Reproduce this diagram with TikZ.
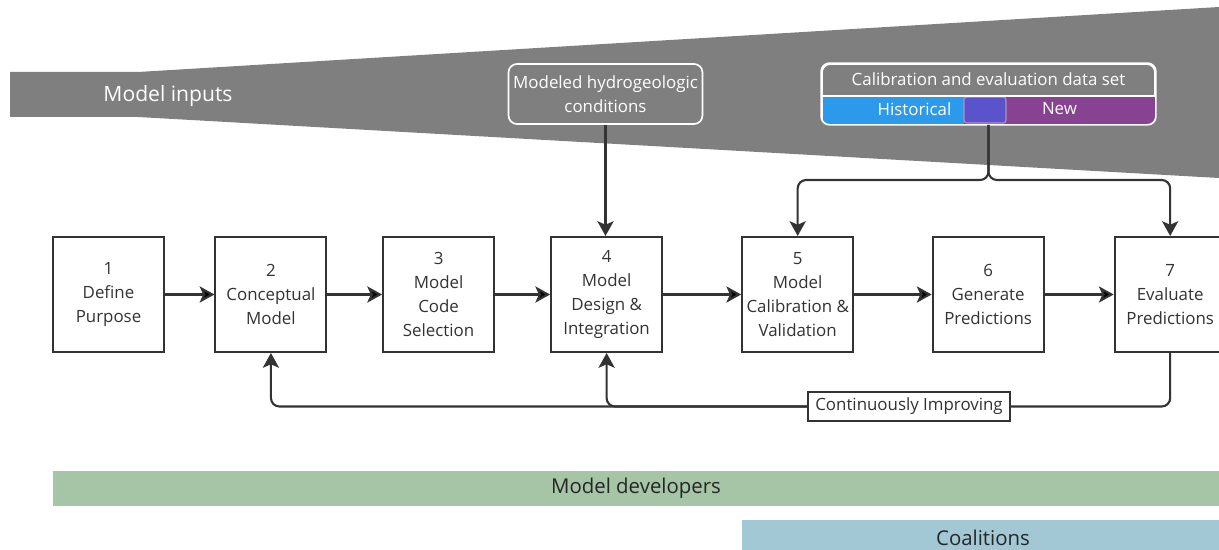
\documentclass[tikz,border=0pt]{standalone}
\usepackage{fontspec}
\setmainfont{Open Sans}
\usetikzlibrary{arrows.meta,positioning,calc}

\definecolor{bandgray}{HTML}{7F7F7F}
\definecolor{linecol}{HTML}{333333}
\definecolor{histblue}{HTML}{2B9AEB}
\definecolor{newpurple}{HTML}{874392}
\definecolor{bothcol}{HTML}{5B53CC}
\definecolor{devgreen}{HTML}{A6C4A6}
\definecolor{coalblue}{HTML}{A2C8D6}

\begin{document}
\begin{tikzpicture}[x=0.025cm,y=-0.025cm,on grid,
  stage/.style={draw=linecol,line width=1.4pt,fill=white,minimum width=2.775cm,
    minimum height=2.875cm,align=center,inner sep=1pt,text=linecol,
    font=\fontsize{12}{17}\selectfont},
  flow/.style={draw=linecol,line width=1.5pt,-{Stealth[length=10.5pt,width=11.5pt,inset=2.5pt]}},
  inbox/.style={draw=white,line width=1.2pt,rounded corners=6pt,fill=bandgray,
    text=white,align=center,font=\fontsize{12}{17}\selectfont},
  band/.style={minimum height=0.875cm,inner sep=0pt,text=black!85,
    font=\fontsize{14.5}{17}\selectfont}]
  \useasboundingbox (0,0) rectangle (1219,550);

  % model inputs wedge
  \fill[bandgray] (10,72) -- (138,72) -- (1219,7) -- (1219,178) -- (138,117) -- (10,117) -- cycle;
  \node[text=white,font=\fontsize{15}{18}\selectfont] (inputs) at (168,96) {Model inputs};

  % steps
  \node[stage] (1) at (108.5,294.5) {1\\Define\\Purpose};
  \node[stage] (2) [right=4.06cm of 1] {2\\Conceptual\\Model};
  \node[stage] (3) [right=4.19cm of 2] {3\\Model\\Code\\Selection};
  \node[stage] (4) [right=4.2cm of 3]  {4\\Model\\Design \&\\Integration};
  \node[stage] (5) [right=4.775cm of 4] {5\\Model\\Calibration \&\\Validation};
  \node[stage] (6) [right=4.76cm of 5] {6\\Generate\\Predictions};
  \node[stage] (7) [right=4.55cm of 6] {7\\Evaluate\\Predictions};

  % inputs to the steps
  \node[inbox,minimum width=4.725cm,minimum height=1.5cm] (hydro) at (605.5,94)
    {Modeled hydrogeologic\\conditions};
  \node[inbox,minimum width=8.325cm,minimum height=1.5cm] (dataset) at (988.5,94) {};
  \begin{scope}
    \clip[rounded corners=6pt] (dataset.north west) rectangle (dataset.south east);
    \fill[histblue] (823,96) rectangle (1006,125);
    \fill[newpurple] (964,96) rectangle (1155,125);
    \fill[bothcol,draw=newpurple!60!white,line width=0.8pt,rounded corners=2pt] (964,97) rectangle (1006,123);
  \end{scope}
  \draw[white,line width=1.2pt,rounded corners=6pt] (dataset.north west) rectangle (dataset.south east);
  \draw[white,line width=1.2pt] (823,96) -- (1155,96);
  \node[text=white,font=\fontsize{12}{17}\selectfont] (settitle) at (988.5,79) {Calibration and evaluation data set};
  \node[text=white,font=\fontsize{12}{17}\selectfont] (hist) at (914.5,109) {Historical};
  \node[text=white,font=\fontsize{12}{17}\selectfont] (new) at (1059.5,109) {New};

  \coordinate (fork) at (988.5,180);
  \draw[flow] (hydro.south) -- (hydro.south |- 4.north);
  \draw[flow,rounded corners=6pt] (dataset.south) -- (fork) -| (5.north);
  \draw[flow,rounded corners=6pt] (dataset.south) -- (fork) -| (7.north);

  % main sequence
  \path[flow] (1) edge (2)
              (2) edge (3)
              (3) edge (4)
              (4) edge (5)
              (5) edge (6)
              (6) edge (7);

  % feedback loop
  \node[draw=linecol,line width=1.2pt,fill=white,minimum width=5.05cm,minimum height=0.725cm,
    inner sep=0pt,text=linecol,font=\fontsize{12}{17}\selectfont] (improve) at (909,406.5)
    {Continuously Improving};
  \draw[draw=linecol,line width=1.5pt,rounded corners=6pt] (7.south) |- (improve.east);
  \draw[flow,rounded corners=6pt] (improve.west) -| (4.south);
  \draw[flow,rounded corners=6pt] (improve.west) -| (2.south);

  % who is involved
  \node[band,fill=devgreen,minimum width=29.15cm] (devs) at (636,488.5) {Model developers};
  \node[band,fill=coalblue,minimum width=12.05cm,minimum height=0.9cm] (coal) at (983,538) {Coalitions};
\end{tikzpicture}
\end{document}
